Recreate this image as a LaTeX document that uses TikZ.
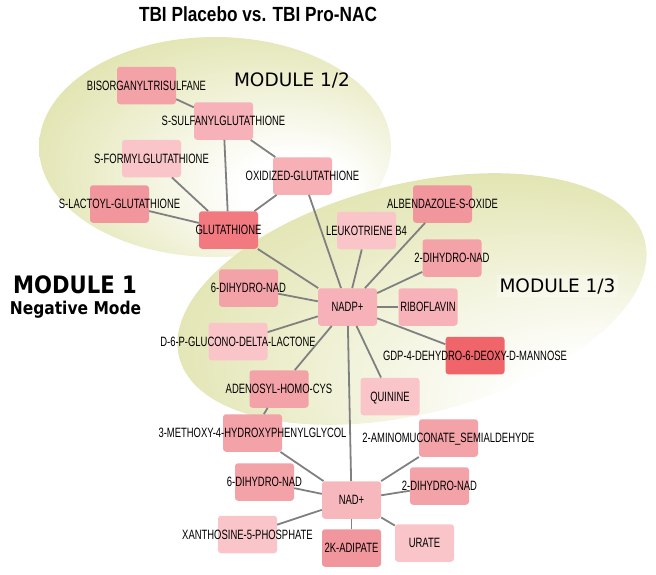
\documentclass[tikz,border=0pt]{standalone}
\usepackage{fontspec}
\setmainfont{Liberation Sans}
\newfontfamily\nodefont[FakeStretch=0.7]{Liberation Sans}
\newfontfamily\titlefont[FakeStretch=0.84]{Liberation Sans}
\newfontfamily\modfont{DejaVu Sans}
\newfontfamily\modboldfont[FakeStretch=0.88]{DejaVu Sans}

\definecolor{modolive}{RGB}{214,218,146}
\definecolor{linkgray}{RGB}{128,128,128}
\definecolor{boxred}{RGB}{240,101,106}
\definecolor{boxrose}{RGB}{242,121,128}
\definecolor{boxdeep}{RGB}{242,150,157}
\definecolor{boxmid}{RGB}{243,162,168}
\definecolor{boxsoft}{RGB}{246,178,184}
\definecolor{boxpale}{RGB}{249,197,201}

\pgfdeclareradialshading{moduleglow}{\pgfpoint{14bp}{-12bp}}{color(0bp)=(white); color(8bp)=(white); color(42bp)=(modolive); color(50bp)=(modolive)}
\pgfdeclareradialshading{moduleglowlow}{\pgfpoint{26bp}{-24bp}}{color(0bp)=(white); color(10bp)=(white); color(44bp)=(modolive); color(50bp)=(modolive)}

\newcommand{\mlab}[1]{\makebox[0pt]{#1}}

\tikzset{
  metab/.style={rectangle, rounded corners=3pt, minimum width=59pt, minimum height=37.5pt, inner sep=0pt, text height=9.7pt, text depth=0pt, font=\nodefont\fontsize{13.5}{14}\selectfont},
  link/.style={draw=linkgray, line width=1.8pt},
  modlabel/.style={font=\modfont\fontsize{18.5}{20}\selectfont, inner sep=0pt, anchor=base},
}

\begin{document}
\begin{tikzpicture}[x=1pt,y=1pt,yscale=-1,xscale=1]
\useasboundingbox (0,0) rectangle (656,574);

%Shape: Ellipse (module 1/2)
\draw [draw=none, shading=moduleglow] (215,147) ellipse [x radius=176pt, y radius=110pt];
%Shape: Ellipse (module 1/3)
\draw [draw=none, shading=moduleglowlow, rotate around={-14:(412,299)}] (412,299) ellipse [x radius=240pt, y radius=115pt];

% Text Node
\node (title) [anchor=base, inner sep=0pt, font=\titlefont\bfseries\fontsize{20.5}{22}\selectfont] at (258,21.7) {TBI Placebo vs. TBI Pro-NAC};
% Text Node
\node (mod12) [modlabel] at (292,86) {MODULE 1/2};
% Text Node
\node (mod13) [modlabel, fill=white, fill opacity=0.3, text opacity=1, inner sep=3pt] at (557.5,292) {MODULE 1/3};
% Text Node
\node (mod1) [anchor=base, inner sep=0pt, font=\modboldfont\bfseries\fontsize{24}{26}\selectfont] at (75,293) {MODULE 1};
% Text Node
\node (negmode) [anchor=base, inner sep=0pt, font=\modboldfont\bfseries\fontsize{17.6}{19}\selectfont] at (75.5,314) {Negative Mode};

% Module 1/2 boxes
\node (bisorg) [metab, fill=boxmid] at (146.5,85.5) {\mlab{BISORGANYLTRISULFANE}};
\node (ssulf) [metab, fill=boxsoft] at (223.5,121) {\mlab{S-SULFANYLGLUTATHIONE}};
\node (sform) [metab, fill=boxpale] at (151.5,158.5) {\mlab{S-FORMYLGLUTATHIONE}};
\node (oxid) [metab, fill=boxsoft!85!boxmid] at (302.5,176) {\mlab{OXIDIZED-GLUTATHIONE}};
\node (slact) [metab, fill=boxdeep] at (119.5,204) {\mlab{S-LACTOYL-GLUTATHIONE}};
\node (glut) [metab, fill=boxrose] at (228.5,230) {\mlab{GLUTATHIONE}};
% Module 1/3 boxes
\node (albend) [metab, fill=boxdeep] at (442.5,204) {\mlab{ALBENDAZOLE-S-OXIDE}};
\node (leuko) [metab, fill=boxpale] at (366.5,230.5) {\mlab{LEUKOTRIENE B4}};
\node (twodihA) [metab, fill=boxmid] at (452,258) {\mlab{2-DIHYDRO-NAD}};
\node (nadp) [metab, fill=boxsoft] at (347.5,307) {\mlab{NADP+}};
\node (ribo) [metab, fill=boxsoft] at (428,307) {\mlab{RIBOFLAVIN}};
\node (gdp) [metab, fill=boxred] at (475,355.5) {\mlab{GDP-4-DEHYDRO-6-DEOXY-D-MANNOSE}};
\node (quin) [metab, fill=boxpale] at (390,396.5) {\mlab{QUININE}};
\node (sixdihA) [metab, fill=boxmid] at (248.5,288) {\mlab{6-DIHYDRO-NAD}};
\node (glucono) [metab, fill=boxpale] at (238,341.5) {\mlab{D-6-P-GLUCONO-DELTA-LACTONE}};
\node (adeno) [metab, fill=boxmid] at (279,389) {\mlab{ADENOSYL-HOMO-CYS}};
% Module 1 boxes
\node (methoxy) [metab, fill=boxmid] at (252.5,433) {\mlab{3-METHOXY-4-HYDROXYPHENYLGLYCOL}};
\node (amino) [metab, fill=boxmid] at (448.5,438) {\mlab{2-AMINOMUCONATE\_SEMIALDEHYDE}};
\node (sixdihB) [metab, fill=boxmid] at (264.5,482) {\mlab{6-DIHYDRO-NAD}};
\node (nad) [metab, fill=boxsoft!70!boxpale] at (351.5,500) {\mlab{NAD+}};
\node (twodihB) [metab, fill=boxmid] at (439.5,486) {\mlab{2-DIHYDRO-NAD}};
\node (xantho) [metab, fill=boxpale] at (247.5,534.5) {\mlab{XANTHOSINE-5-PHOSPHATE}};
\node (adip) [metab, fill=boxdeep] at (351.5,548) {\mlab{2K-ADIPATE}};
\node (urate) [metab, fill=boxpale] at (424.5,543) {\mlab{URATE}};

%Straight Lines
\draw [link] (bisorg) -- (ssulf);
\draw [link] (ssulf) -- (glut);
\draw [link] (ssulf) -- (oxid);
\draw [link] (sform) -- (glut);
\draw [link] (slact) -- (glut);
\draw [link] (oxid) -- (glut);
\draw [link] (oxid) -- (nadp);
\draw [link] (glut) -- (nadp);
\draw [link] (leuko) -- (nadp);
\draw [link] (albend) -- (nadp);
\draw [link] (twodihA) -- (nadp);
\draw [link] (ribo) -- (nadp);
\draw [link] (gdp) -- (nadp);
\draw [link] (quin) -- (nadp);
\draw [link] (sixdihA) -- (nadp);
\draw [link] (glucono) -- (nadp);
\draw [link] (adeno) -- (nadp);
\draw [link] (adeno) -- (methoxy);
\draw [link] (nadp) -- (nad);
%Straight Lines
\draw [link] (methoxy) -- (nad);
\draw [link] (sixdihB) -- (nad);
\draw [link] (xantho) -- (nad);
\draw [link] (adip) -- (nad);
\draw [link] (urate) -- (nad);
\draw [link] (twodihB) -- (nad);
\draw [link] (amino) -- (nad);

\end{tikzpicture}
\end{document}
